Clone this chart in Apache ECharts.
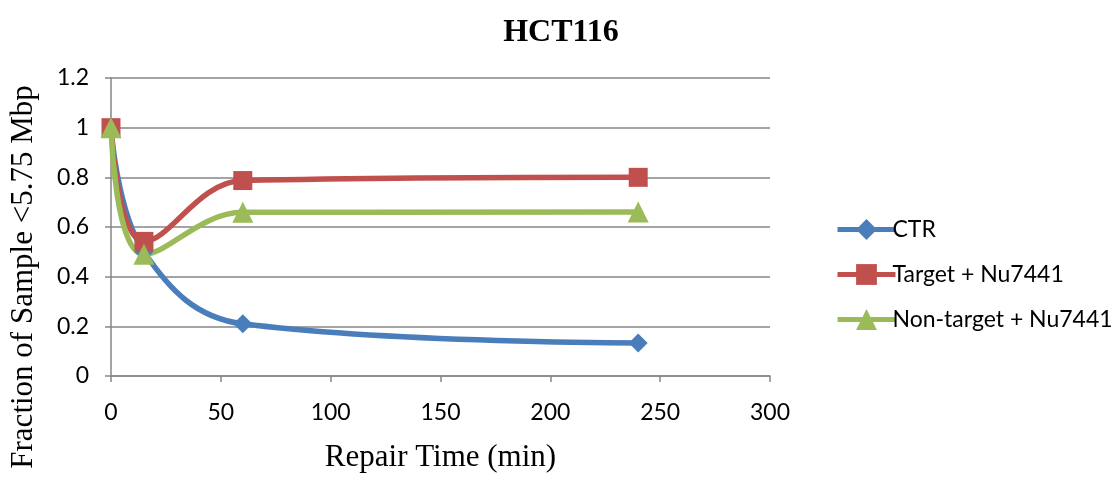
<!DOCTYPE html>
<html><head><meta charset="utf-8">
<script src="https://cdn.jsdelivr.net/npm/echarts@6/dist/echarts.min.js"></script>
<style>html,body{margin:0;padding:0;background:#fff}#c{width:1120px;height:480px}</style>
</head><body><div id="c"></div>
<script>
const times = [0, 15, 60, 240];
const ctr = [1.0, 0.50, 0.21, 0.133];
const target = [1.0, 0.542, 0.787, 0.80];
const nonTarget = [1.0, 0.49, 0.659, 0.66];
const seriesNames = ['CTR', 'Target + Nu7441', 'Non-target + Nu7441'];
const colors = ['#4a7ebb', '#c0504d', '#9bbb59'];
const symbols = ['diamond', 'rect', 'triangle'];
const symbolSizes = [19, 19, 21];

const toPts = arr => times.map((t, i) => [t, arr[i]]);
const all = [ctr, target, nonTarget];
const chart = echarts.init(document.getElementById('c'));
const tickFont = { fontFamily: 'Lato', fontSize: 23, color: '#000' };
chart.setOption({
  animation: false,
  title: { text: 'HCT116', left: 556, top: 12, textAlign: 'center',
    textStyle: { fontFamily: 'Liberation Serif', fontWeight: 'bold', fontSize: 32, color: '#000' } },
  grid: { left: 107, right: 350, top: 78, bottom: 104 },
  legend: {
    orient: 'vertical', left: 830, top: 213, itemGap: 22, itemWidth: 58, itemHeight: 26,
    lineStyle: { width: 5 },
    textStyle: { fontFamily: 'Lato', fontSize: 23, color: '#000', padding: [0,0,0,-8] },
    data: seriesNames
  },
  xAxis: {
    type: 'value', min: 0, max: 300, interval: 50,
    name: 'Repair Time (min)', nameLocation: 'middle', nameGap: 66,
    nameTextStyle: { fontFamily: 'Liberation Serif', fontSize: 31, color: '#000' },
    axisLine: { lineStyle: { color: '#868686', width: 1.5 } },
    axisTick: { show: true, length: 6, lineStyle: { color: '#868686', width: 1.5 } },
    axisLabel: Object.assign({ margin: 25 }, tickFont),
    splitLine: { show: false }
  },
  yAxis: {
    type: 'value', min: 0, max: 1.2, interval: 0.2,
    name: 'Fraction of Sample <5.75 Mbp', nameLocation: 'middle', nameRotate: 90, nameGap: 72,
    nameTextStyle: { fontFamily: 'Liberation Serif', fontSize: 31, color: '#000', padding: [0, 100, 0, 0] },
    axisLine: { show: true, lineStyle: { color: '#868686', width: 1.5 } },
    axisTick: { show: true, length: 6, lineStyle: { color: '#868686', width: 1.5 } },
    axisLabel: Object.assign({ margin: 22 }, tickFont),
    splitLine: { lineStyle: { color: '#868686', width: 1.5 } }
  },
  series: all.map((arr, i) => ({
    name: seriesNames[i], type: 'line', data: toPts(arr), smooth: 0.4,
    symbol: symbols[i], symbolSize: symbolSizes[i], showAllSymbol: true,
    lineStyle: { color: colors[i], width: 5.5 },
    itemStyle: { color: colors[i] }
  }))
});
</script></body></html>
